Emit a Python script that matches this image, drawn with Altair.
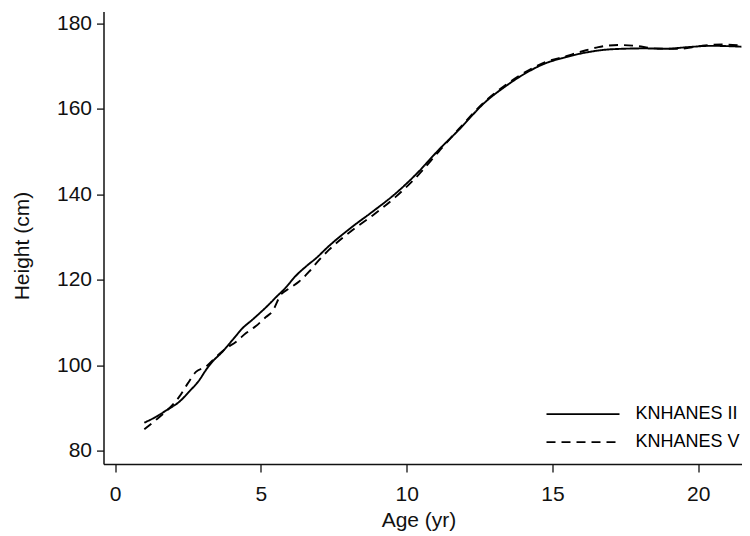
import altair as alt
import pandas as pd

# KNHANES II (solid)
ages_ii = [1.00, 1.40, 1.80, 2.20, 2.54, 2.89, 3.11, 3.34, 3.68, 4.02, 4.37, 4.71, 5.05, 5.28,
           5.51, 5.85, 6.19, 6.54, 6.88, 7.33, 8.13, 8.82, 9.62, 10.41, 11.10, 11.78, 12.70,
           13.38, 14.18, 14.75, 15.32, 16.12, 17.03, 18.17, 18.86, 19.65, 20.45, 21.48]
height_ii = [86.6, 88.0, 89.7, 91.5, 93.9, 96.6, 98.9, 100.9, 103.2, 105.9, 108.7, 110.7, 112.8, 114.3,
             115.9, 118.2, 120.9, 123.1, 125.0, 127.9, 132.4, 135.9, 140.2, 145.3, 150.4, 155.0, 161.6,
             165.2, 168.7, 170.6, 171.8, 173.1, 173.9, 174.1, 174.0, 174.4, 174.7, 174.5]

# KNHANES V (dashed)
ages_v = [1.00, 1.46, 1.86, 2.20, 2.49, 2.77, 3.11, 3.46, 3.80, 4.14, 4.48, 4.83, 5.17, 5.39,
          5.68, 5.97, 6.31, 6.65, 6.99, 7.33, 8.13, 8.82, 9.62, 10.41, 11.10, 11.78, 12.70,
          13.38, 14.18, 14.75, 15.32, 16.12, 16.57, 17.26, 17.83, 18.51, 19.31, 20.11, 20.80, 21.48]
height_v = [85.1, 87.6, 90.0, 92.7, 95.8, 98.5, 99.7, 102.0, 104.0, 105.5, 107.5, 109.2, 111.3, 112.6,
            116.5, 118.0, 119.6, 121.9, 124.6, 127.0, 131.6, 135.0, 139.4, 144.6, 150.0, 155.2, 161.8,
            165.5, 169.0, 170.9, 172.0, 173.6, 174.4, 174.9, 174.7, 174.1, 174.0, 174.7, 175.0, 174.8]

series = ["KNHANES II", "KNHANES V"]
x_ticks = [0, 5, 10, 15, 20]
y_ticks = [80, 100, 120, 140, 160, 180]

df = pd.concat([
    pd.DataFrame({"age": ages_ii, "height": height_ii, "survey": series[0]}),
    pd.DataFrame({"age": ages_v, "height": height_v, "survey": series[1]}),
])

FONT = "Liberation Sans"

chart = alt.Chart(df).mark_line(
    color="black", strokeWidth=1.9, interpolate="monotone", clip=True
).encode(
    x=alt.X("age:Q", title="Age (yr)",
            scale=alt.Scale(domain=[-0.4, 21.5], nice=False, zero=False),
            axis=alt.Axis(values=x_ticks, titleX=315, titlePadding=5, labelPadding=11, tickSize=8)),
    y=alt.Y("height:Q", title="Height (cm)",
            scale=alt.Scale(domain=[76.96, 182.7], nice=False, zero=False),
            axis=alt.Axis(values=y_ticks, titleY=234, titlePadding=24, labelPadding=5, tickSize=7)),
    strokeDash=alt.StrokeDash("survey:N", title=None,
                              scale=alt.Scale(domain=series, range=[[1, 0], [9, 6]]),
                              legend=alt.Legend(orient="none", legendX=469, legendY=392,
                                                symbolType="M-4,0H4", symbolSize=333,
                                                symbolStrokeWidth=1.9, symbolStrokeColor="black",
                                                labelFontSize=18, labelFont=FONT, labelColor="black",
                                                labelOffset=42, rowPadding=8, padding=0)),
).properties(
    width=638.5, height=452.4,
    padding={"left": 95.5, "top": 3.6, "right": 0, "bottom": 70},
    autosize=alt.AutoSizeParams(type="none"),
    background="white",
).configure_view(
    stroke=None
).configure_axis(
    grid=False, domainColor="#111", domainWidth=1.5, tickColor="#111", tickWidth=1.3,
    labelFont=FONT, titleFont=FONT, labelFontSize=21, titleFontSize=21,
    labelColor="#111", titleColor="#111", titleFontWeight="normal",
)

chart.save("out.html", embed_options={"renderer": "svg", "actions": False})
